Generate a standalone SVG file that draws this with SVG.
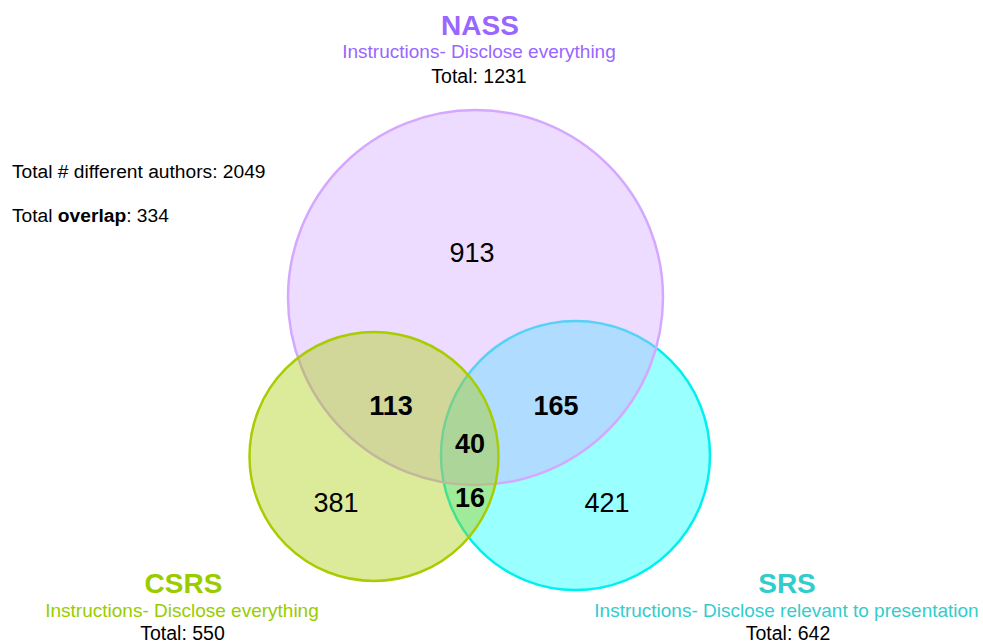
<svg xmlns="http://www.w3.org/2000/svg" width="983" height="643" viewBox="0 0 983 643">
  <style>
    text { font-family: "Liberation Sans", Arial, sans-serif; }
    .set { stroke-width: 2.5; }
    .title { font-size: 28px; font-weight: bold; text-anchor: middle; }
    .sub { font-size: 19px; text-anchor: middle; }
    .total { font-size: 19.5px; text-anchor: middle; fill: #000; }
    .note { font-size: 19.2px; fill: #000; }
    .count { font-size: 27px; text-anchor: middle; fill: #000; }
    .bold { font-weight: bold; }
    .nass { fill: #9966ff; }
    .csrs { fill: #99cc00; }
    .srs { fill: #33cccc; }
  </style>
  <rect width="983" height="643" fill="#ffffff"/>

  <!-- Set circles: SRS beneath, NASS above it, CSRS on top; translucent fills -->
  <g id="srs">
    <circle class="set" cx="575.5" cy="455.5" r="134.5" fill="#00ffff" fill-opacity="0.4" stroke="#00f0f0"/>
  </g>
  <g id="nass">
    <circle class="set" cx="475.5" cy="297.5" r="187.5" fill="#d2a8ff" fill-opacity="0.4" stroke="#d4a8ff"/>
  </g>
  <g id="csrs">
    <circle class="set" cx="374" cy="456.5" r="124.5" fill="#a8cc00" fill-opacity="0.4" stroke="#a8cc00"/>
  </g>

  <!-- Region counts -->
  <g id="counts">
    <text class="count" x="472" y="262">913</text>
    <text class="count bold" x="391" y="415">113</text>
    <text class="count bold" x="556" y="415">165</text>
    <text class="count bold" x="470" y="453">40</text>
    <text class="count bold" x="470" y="507">16</text>
    <text class="count" x="336" y="512">381</text>
    <text class="count" x="607" y="512">421</text>
  </g>

  <!-- Set labels -->
  <g id="label-nass">
    <text class="title nass" x="480" y="35">NASS</text>
    <text class="sub nass" x="479" y="58">Instructions- Disclose everything</text>
    <text class="total" x="479" y="83">Total: 1231</text>
  </g>
  <g id="label-csrs">
    <text class="title csrs" x="183.5" y="593">CSRS</text>
    <text class="sub csrs" x="182" y="617">Instructions- Disclose everything</text>
    <text class="total" x="182.5" y="640">Total: 550</text>
  </g>
  <g id="label-srs">
    <text class="title srs" x="787" y="593">SRS</text>
    <text class="sub srs" x="786.5" y="617">Instructions- Disclose relevant to presentation</text>
    <text class="total" x="788" y="640">Total: 642</text>
  </g>

  <!-- Summary notes -->
  <g id="summary">
    <text class="note" x="12" y="177.5">Total # different authors: 2049</text>
    <text class="note" x="12" y="221.5">Total <tspan font-weight="bold">overlap</tspan>: 334</text>
  </g>
</svg>
